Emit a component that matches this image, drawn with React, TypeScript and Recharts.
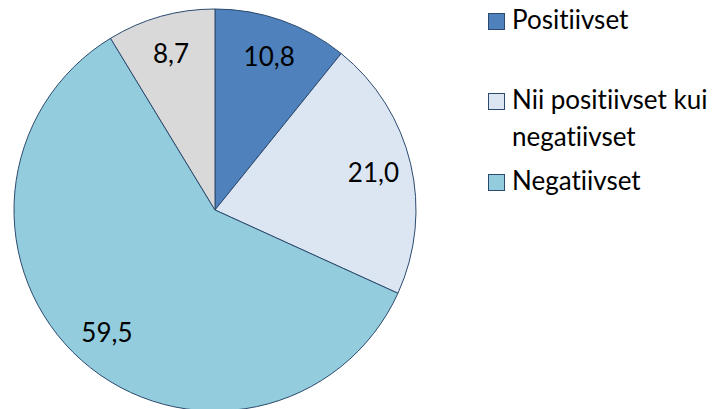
import React from 'react';
import { PieChart, Pie, Cell, Legend } from 'recharts';

const categories = ['Positiivset', 'Nii positiivset kui negatiivset', 'Negatiivset', 'Ei oska öelda'];
const shares = [10.8, 21.0, 59.5, 8.7];
const colors = ['#4F81BD', '#DCE6F2', '#93CDDD', '#D9D9D9'];
const legendLines = [['Positiivset'], ['Nii positiivset kui', 'negatiivset'], ['Negatiivset']];

const data = categories.map((name, i) => ({ name, value: shares[i] }));

const FONT = 'Lato, Carlito, Calibri, sans-serif';
const RAD = Math.PI / 180;
const noLig = { fontVariantLigatures: 'none' as const };

const renderLabel = (props: any) => {
    const { cx, cy, midAngle, outerRadius, value } = props;
    const r = outerRadius * 0.81;
    const x = cx + r * Math.cos(-midAngle * RAD);
    const y = cy + r * Math.sin(-midAngle * RAD);
    return (
        <text x={x} y={y} fill="#000" textAnchor="middle" dominantBaseline="central"
            fontFamily={FONT} fontSize={26} style={noLig}>
            {value.toFixed(1).replace('.', ',')}
        </text>
    );
};

const LegendBox = () => {
    const tops = [13, 93, 174];
    return (
        <svg width={240} height={220}>
            {legendLines.map((lines, i) => (
                <g key={i}>
                    <rect x={1.5} y={tops[i] + 0.5} width={16} height={16} fill={colors[i]} stroke="#2C4A6E" strokeWidth={1} />
                    {lines.map((t, j) => (
                        <text key={j} x={25} y={tops[i] + 16 + j * 37} fontFamily={FONT} fontSize={26} fill="#000" style={noLig}>
                            {t}
                        </text>
                    ))}
                </g>
            ))}
        </svg>
    );
};

export default function App() {
    return (
        <div style={{ position: 'absolute', left: 0, top: 0, width: 720, height: 409, background: '#fff' }}>
            <PieChart width={720} height={409} margin={{ top: 0, right: 0, bottom: 0, left: 0 }}>
                <Pie
                    data={data}
                    dataKey="value"
                    nameKey="name"
                    cx={215}
                    cy={210}
                    outerRadius={201}
                    startAngle={90}
                    endAngle={-270}
                    stroke="#2C4A6E"
                    strokeWidth={1}
                    label={renderLabel}
                    labelLine={false}
                    isAnimationActive={false}
                >
                    {data.map((d, i) => (
                        <Cell key={d.name} fill={colors[i]} />
                    ))}
                </Pie>
                <Legend
                    layout="vertical"
                    align="right"
                    verticalAlign="top"
                    wrapperStyle={{ left: 487, top: 0, width: 240 }}
                    content={() => <LegendBox />}
                />
            </PieChart>
        </div>
    );
}
